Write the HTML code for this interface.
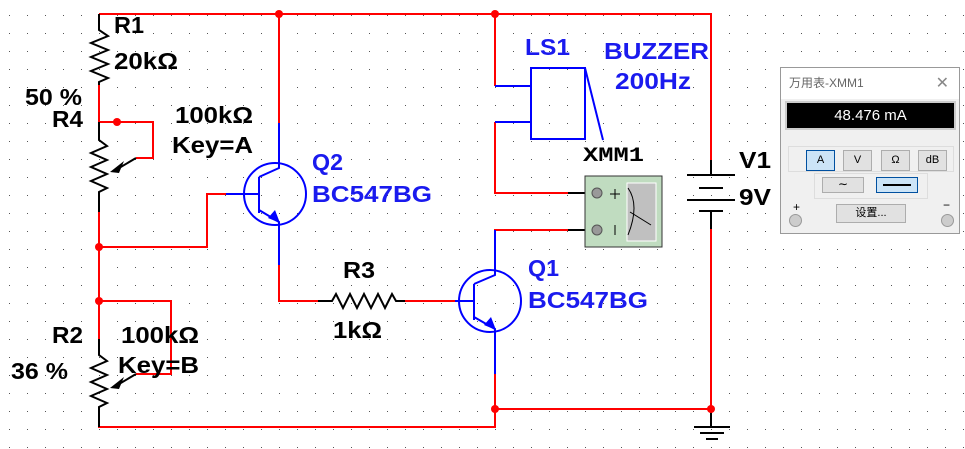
<!DOCTYPE html>
<html><head><meta charset="utf-8"><style>
body{margin:0;background:#fff;width:965px;height:449px;overflow:hidden;position:relative;font-family:"Liberation Sans",sans-serif}
svg{position:absolute;left:0;top:0}
.p{position:absolute;left:780px;top:67px;width:180px;height:167px;background:#f0f0f0;border:1px solid #999;box-sizing:border-box;font-family:"Liberation Sans","Noto Sans CJK SC",sans-serif}
</style></head><body>
<svg width="965" height="449" viewBox="0 0 965 449">
<defs><pattern id="g" width="18" height="18" patternUnits="userSpaceOnUse" x="0" y="6"><rect x="9" y="9" width="1" height="1" fill="#555"/></pattern></defs>
<rect width="965" height="449" fill="url(#g)"/>
<g fill="none" stroke-width="2">
<g stroke="#f00">
<polyline points="99,14 711,14 711,160"/>
<line x1="279" y1="14" x2="279" y2="123"/>
<polyline points="495,14 495,86"/>
<polyline points="99,85 99,122 153,122 153,158 136,158"/>
<polyline points="99,212 99,355"/>
<polyline points="99,247 207,247 207,194 226,194"/>
<polyline points="99,301 171,301 171,374 136,374"/>
<polyline points="99,412 99,427 495,427 495,374"/>
<polyline points="279,265 279,301 318,301"/>
<line x1="405" y1="301" x2="455" y2="301"/>
<polyline points="495,122 495,193 568,193"/>
<polyline points="495,266 495,230 568,230"/>
<polyline points="495,409 711,409 711,229"/>
</g>
<g stroke="#000">
<polyline points="99,14 99,30 108,36 91,43 108,50 91,57 108,64 91,71 108,78 99,82 99,85"/>
<polyline points="99,122 99,140 107,146 91,153 107,160 91,167 107,174 91,181 107,188 99,192 99,212"/>
<polyline points="136,158 114,171"/>
<polyline points="99,339 99,355 107,361 91,368 107,375 91,382 107,389 91,396 107,403 99,407 99,427"/>
<polyline points="136,374 114,387"/>
<polyline points="318,301 332,301 336,294 343,308 350,294 357,308 364,294 371,308 378,294 385,308 392,294 396,301 405,301"/>
<line x1="568" y1="193" x2="597" y2="193"/><line x1="568" y1="230" x2="597" y2="230"/>
<line x1="711" y1="160" x2="711" y2="175"/><line x1="711" y1="211" x2="711" y2="229"/>
<line x1="687" y1="175" x2="735" y2="175"/><line x1="699" y1="188" x2="723" y2="188"/>
<line x1="687" y1="200" x2="735" y2="200"/><line x1="699" y1="211" x2="723" y2="211"/>
<line x1="711" y1="409" x2="711" y2="427"/><line x1="694" y1="427" x2="730" y2="427"/><line x1="700" y1="433" x2="724" y2="433"/><line x1="706" y1="439" x2="718" y2="439"/>
</g>
<g stroke="#00f">
<circle cx="275" cy="194" r="31"/>
<polyline points="279,123 279,168 259,177"/><line x1="259" y1="177" x2="259" y2="213"/><line x1="226" y1="194" x2="259" y2="194"/>
<polyline points="259,210 279,222 279,265"/>
<circle cx="490" cy="301" r="31"/>
<polyline points="495,230 495,275 474,284"/><line x1="474" y1="284" x2="474" y2="320"/><line x1="455" y1="301" x2="474" y2="301"/>
<polyline points="474,317 495,329 495,374"/>
<polyline points="495,86 531,86"/><polyline points="495,122 531,122"/>
<rect x="531" y="68" width="54" height="71"/><line x1="585" y1="68" x2="603" y2="140"/>
</g>
</g>
<polygon points="110,172 124,161 119,173" fill="#000"/>
<polygon points="110,388 124,377 119,389" fill="#000"/>
<polygon points="280,223 268,218 275,210" fill="#00f"/>
<polygon points="496,330 484,325 491,317" fill="#00f"/>
<g fill="#f00"><circle cx="279" cy="14" r="4"/><circle cx="495" cy="14" r="4"/><circle cx="117" cy="122" r="4"/><circle cx="99" cy="247" r="4"/><circle cx="99" cy="301" r="4"/><circle cx="495" cy="409" r="4"/><circle cx="711" cy="409" r="4"/></g>
<rect x="585" y="176" width="77" height="71" fill="#c0dcc0" stroke="#333"/>
<rect x="627" y="183" width="29" height="58" fill="#c0c0c0" stroke="#fff"/>
<circle cx="597" cy="193" r="5" fill="#999" stroke="#555"/><circle cx="597" cy="230" r="5" fill="#999" stroke="#555"/>
<g stroke="#000" fill="none" stroke-width="1"><line x1="610" y1="194" x2="620" y2="194"/><line x1="615" y1="189" x2="615" y2="199"/><line x1="615" y1="225" x2="615" y2="235"/><path d="M628,188 Q640,205 628,235"/><line x1="630" y1="212" x2="651" y2="225"/></g>
<g font-weight="bold" font-size="23" fill="#000">
<text x="114" y="33" textLength="30" lengthAdjust="spacingAndGlyphs">R1</text><text x="114" y="69" textLength="64" lengthAdjust="spacingAndGlyphs">20kΩ</text><text x="25" y="105" textLength="57" lengthAdjust="spacingAndGlyphs">50 %</text><text x="52" y="127" textLength="31" lengthAdjust="spacingAndGlyphs">R4</text>
<text x="175" y="123" textLength="78" lengthAdjust="spacingAndGlyphs">100kΩ</text><text x="172" y="153" textLength="81" lengthAdjust="spacingAndGlyphs">Key=A</text>
<text x="52" y="343" textLength="31" lengthAdjust="spacingAndGlyphs">R2</text><text x="121" y="343" textLength="78" lengthAdjust="spacingAndGlyphs">100kΩ</text><text x="118" y="373" textLength="81" lengthAdjust="spacingAndGlyphs">Key=B</text><text x="11" y="379" textLength="57" lengthAdjust="spacingAndGlyphs">36 %</text>
<text x="343" y="278" textLength="32" lengthAdjust="spacingAndGlyphs">R3</text><text x="333" y="338" textLength="49" lengthAdjust="spacingAndGlyphs">1kΩ</text>
<text x="739" y="168" textLength="32" lengthAdjust="spacingAndGlyphs">V1</text><text x="739" y="205" textLength="32" lengthAdjust="spacingAndGlyphs">9V</text>
</g>
<text x="583" y="161" font-family="Liberation Mono,monospace" font-weight="bold" font-size="20" textLength="61" lengthAdjust="spacingAndGlyphs">XMM1</text>
<g font-weight="bold" font-size="23" fill="#1a1aee">
<text x="312" y="170" textLength="31" lengthAdjust="spacingAndGlyphs">Q2</text><text x="312" y="202" textLength="120" lengthAdjust="spacingAndGlyphs">BC547BG</text>
<text x="528" y="276" textLength="31" lengthAdjust="spacingAndGlyphs">Q1</text><text x="528" y="308" textLength="120" lengthAdjust="spacingAndGlyphs">BC547BG</text>
<text x="525" y="55" textLength="45" lengthAdjust="spacingAndGlyphs">LS1</text><text x="604" y="59" textLength="105" lengthAdjust="spacingAndGlyphs">BUZZER</text><text x="615" y="89" textLength="76" lengthAdjust="spacingAndGlyphs">200Hz</text>
</g>
</svg>
<div class="p">
<div style="position:absolute;left:0;top:0;width:178px;height:31px;background:#fff;font-size:12px;color:#666;line-height:31px;padding-left:8px;box-sizing:border-box">万用表-XMM1<span style="position:absolute;right:10px;font-size:16px;color:#888">✕</span></div>
<div style="position:absolute;left:4px;top:33px;width:171px;height:29px;background:#000;border:2px solid #ccc;box-sizing:border-box;color:#fff;text-align:center;font-size:15px;line-height:25px">48.476 mA</div>
<div style="position:absolute;left:7px;top:78px;width:164px;height:24px;border:1px solid #ddd"></div>
<div style="position:absolute;left:25px;top:82px;width:27px;height:19px;background:#cce4f7;border:1px solid #0050a0;font-size:11px;text-align:center;line-height:19px">A</div>
<div style="position:absolute;left:62px;top:82px;width:27px;height:19px;background:#e1e1e1;border:1px solid #adadad;font-size:11px;text-align:center;line-height:19px">V</div>
<div style="position:absolute;left:100px;top:82px;width:27px;height:19px;background:#e1e1e1;border:1px solid #adadad;font-size:11px;text-align:center;line-height:19px">Ω</div>
<div style="position:absolute;left:137px;top:82px;width:27px;height:19px;background:#e1e1e1;border:1px solid #adadad;font-size:11px;text-align:center;line-height:19px">dB</div>
<div style="position:absolute;left:33px;top:105px;width:112px;height:24px;border:1px solid #ddd"></div>
<div style="position:absolute;left:41px;top:109px;width:40px;height:14px;background:#e1e1e1;border:1px solid #adadad;font-size:12px;text-align:center;line-height:12px">∼</div>
<div style="position:absolute;left:95px;top:109px;width:40px;height:14px;background:#cce4f7;border:1px solid #0050a0"><div style="margin:6px 6px;height:2px;background:#000"></div></div>
<div style="position:absolute;left:55px;top:136px;width:68px;height:17px;background:#e1e1e1;border:1px solid #adadad;font-size:11px;text-align:center;line-height:17px">设置...</div>
<div style="position:absolute;left:12px;top:132px;font-size:12px">+</div>
<div style="position:absolute;left:8px;top:146px;width:11px;height:11px;border-radius:50%;background:#ccc;border:1px solid #999"></div>
<div style="position:absolute;left:160px;top:146px;width:11px;height:11px;border-radius:50%;background:#ccc;border:1px solid #999"></div>
<div style="position:absolute;left:162px;top:130px;font-size:12px">−</div>
</div>
</body></html>
